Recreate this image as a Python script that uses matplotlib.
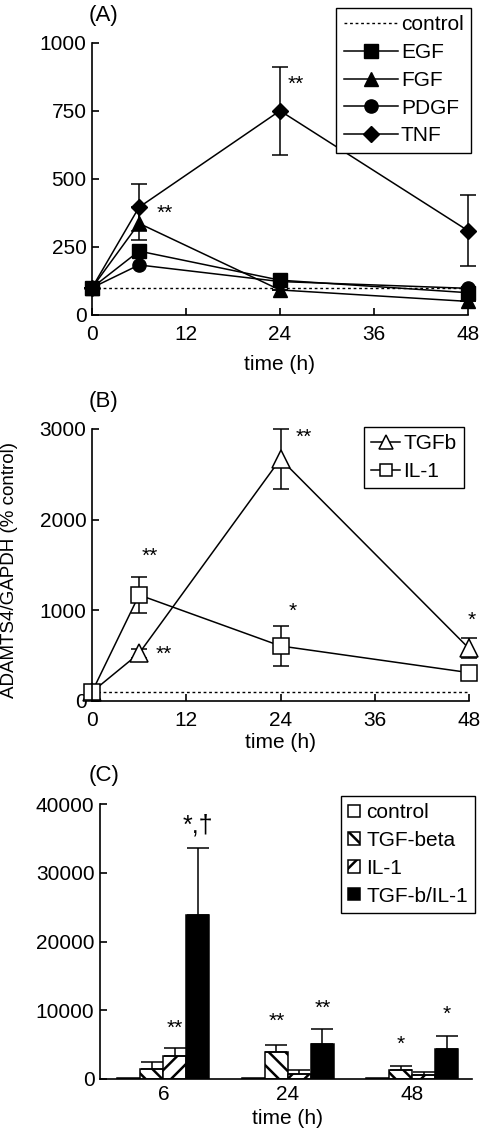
import numpy as np
import matplotlib
matplotlib.use("Agg")
import matplotlib.pyplot as plt

plt.rcParams['font.family'] = ['Liberation Sans', 'DejaVu Sans']
plt.rcParams['hatch.linewidth'] = 1.8

# --- Panel A data (% control) ---
TIME = [0, 6, 24, 48]
EGF = [100, 235, 128, 82]
FGF = [100, 337, 92, 50]
PDGF = [100, 184, 123, 98]
TNF = [100, 396, 751, 310]
FGF_ERR = [0, 61, 0, 0]
TNF_ERR = [0, 86, 161, 130]
CONTROL = 100

# --- Panel B data ---
TGFB = [100, 526, 2670, 580]
TGFB_ERR = [0, 50, 330, 110]
IL1 = [100, 1170, 607, 313]
IL1_ERR = [0, 195, 220, 0]

# --- Panel C data ---
GROUPS = ['6', '24', '48']
C_LABELS = ['control', 'TGF-beta', 'IL-1', 'TGF-b/IL-1']
C_CONTROL = [100, 100, 100]
C_TGFB = [1450, 3870, 1260]
C_IL1 = [3300, 770, 580]
C_BOTH = [23800, 5080, 4360]
C_TGFB_ERR = [970, 1020, 580]
C_IL1_ERR = [1150, 490, 440]
C_BOTH_ERR = [9850, 2230, 1940]

FS = 15
W, H = 480, 1129


def style_axes(ax):
    for s in ['top', 'right']:
        ax.spines[s].set_visible(False)
    for s in ['left', 'bottom']:
        ax.spines[s].set_linewidth(1.2)
    ax.tick_params(direction='in', length=5, width=1.2, labelsize=FS, pad=4)
    ax.tick_params(axis='x', pad=7)


def ax_rect(left, right, top, bottom):
    return [left / W, 1 - bottom / H, (right - left) / W, (bottom - top) / H]


def add_legend(ax, right, top, **kw):
    opts = dict(loc='upper right', bbox_to_anchor=(right / W, 1 - top / H),
                bbox_transform=fig.transFigure, borderaxespad=0, fontsize=FS,
                fancybox=False, edgecolor='black', framealpha=1, borderpad=0.35)
    opts.update(kw)
    leg = ax.legend(**opts)
    leg.get_frame().set_linewidth(1.0)
    return leg


fig = plt.figure(figsize=(4.8, 11.29), dpi=100)

# ---------------- (A) ----------------
axA = fig.add_axes(ax_rect(92, 468, 43, 315))
style_axes(axA)
axA.plot([0, 48], [CONTROL, CONTROL], color='black', lw=1, dashes=(2, 2), label='control')
mk = dict(color='black', lw=1.1, ms=9.5, clip_on=False)
axA.plot(TIME, EGF, marker='s', label='EGF', **mk)
axA.plot(TIME, FGF, marker='^', label='FGF', **mk)
axA.plot(TIME, PDGF, marker='o', label='PDGF', **mk)
axA.plot(TIME, TNF, marker='D', label='TNF', **{**mk, 'ms': 8.5})
ek = dict(fmt='none', ecolor='black', elinewidth=1.1, capsize=6, capthick=1.1, clip_on=False)
axA.errorbar(TIME, FGF, yerr=FGF_ERR, **ek)
axA.errorbar(TIME, TNF, yerr=TNF_ERR, **ek)
axA.text(26, 847, '**', fontsize=FS, ha='center', va='center')
axA.text(9.3, 374, '**', fontsize=FS, ha='center', va='center')
axA.set_xlim(0, 48)
axA.set_ylim(0, 1000)
axA.set_xticks([0, 12, 24, 36, 48])
axA.set_yticks([0, 250, 500, 750, 1000])
axA.set_xlabel('time (h)', fontsize=FS, labelpad=8)
add_legend(axA, 471, 8, handlelength=2.6, labelspacing=0.42, handletextpad=0.15)
fig.text(103 / W, 1 - 15 / H, '(A)', fontsize=FS + 1, ha='center', va='center')

# ---------------- (B) ----------------
axB = fig.add_axes(ax_rect(92, 469, 429, 701))
style_axes(axB)
axB.plot([0, 48], [CONTROL, CONTROL], color='black', lw=1, dashes=(2, 2))
ok = dict(color='black', lw=1.1, mfc='white', mec='black', mew=1.1, clip_on=False)
axB.errorbar(TIME, TGFB, yerr=TGFB_ERR, **ek)
axB.errorbar(TIME, IL1, yerr=IL1_ERR, **ek)
axB.plot(TIME, TGFB, marker='^', ms=13, label='TGFb', **ok)
axB.plot(TIME, IL1, marker='s', ms=12, label='IL-1', **ok)
axB.text(7.4, 1594, '**', fontsize=FS, ha='center', va='center')
axB.text(9.1, 519, '**', fontsize=FS, ha='center', va='center')
axB.text(26.9, 2911, '**', fontsize=FS, ha='center', va='center')
axB.text(25.5, 986, '*', fontsize=FS, ha='center', va='center')
axB.text(48.3, 894, '*', fontsize=FS, ha='center', va='center')
axB.set_xlim(0, 48)
axB.set_ylim(0, 3000)
axB.set_xticks([0, 12, 24, 36, 48])
axB.set_yticks([0, 1000, 2000, 3000])
axB.set_xlabel('time (h)', fontsize=FS, labelpad=2)
add_legend(axB, 464, 427, handlelength=1.4, labelspacing=0.42, handletextpad=0.15, markerscale=0.75)
fig.text(10 / W, 1 - 570 / H, 'ADAMTS4/GAPDH (% control)', fontsize=13.5, rotation=90,
         ha='center', va='center')
fig.text(103 / W, 1 - 402 / H, '(B)', fontsize=FS + 1, ha='center', va='center')

# ---------------- (C) ----------------
axC = fig.add_axes(ax_rect(100, 472, 804, 1079))
style_axes(axC)
x = np.arange(len(GROUPS))
bw = 0.185
offs = [-1.5 * bw, -0.5 * bw, 0.5 * bw, 1.5 * bw]
series = [C_CONTROL, C_TGFB, C_IL1, C_BOTH]
errs = [None, C_TGFB_ERR, C_IL1_ERR, C_BOTH_ERR]
hatches = ['', '\\\\', '//', '']
faces = ['white', 'white', 'white', 'black']
for vals, err, h, fc, off, lab in zip(series, errs, hatches, faces, offs, C_LABELS):
    yerr = None if err is None else [np.zeros(len(err)), err]
    axC.bar(x + off, vals, bw, color=fc, edgecolor='black', hatch=h, linewidth=1.1, label=lab,
            yerr=yerr, capsize=8, error_kw=dict(elinewidth=1.1, capthick=1.1, ecolor='black'))
annot = [(2, 0, 7400, '**'), (3, 0, 36900, '*,†'), (1, 1, 8400, '**'), (3, 1, 10300, '**'),
         (1, 2, 5000, '*'), (3, 2, 9350, '*')]
for si, gi, yy, t in annot:
    axC.text(x[gi] + offs[si], yy, t, fontsize=FS + (3 if '†' in t else 0), ha='center', va='center')
axC.set_xlim(-0.51, 2.48)
axC.set_ylim(0, 40000)
axC.set_xticks(x)
axC.set_xticklabels(GROUPS)
axC.tick_params(axis='x', length=0, pad=4)
axC.set_yticks([0, 10000, 20000, 30000, 40000])
fig.text(287 / W, 1 - 1119 / H, 'time (h)', fontsize=FS, ha='center', va='center')
add_legend(axC, 475, 796, handlelength=0.55, handleheight=0.55, labelspacing=0.42,
           handletextpad=0.3)
fig.text(104 / W, 1 - 775 / H, '(C)', fontsize=FS + 1, ha='center', va='center')

fig.savefig('out.png', dpi=100)
